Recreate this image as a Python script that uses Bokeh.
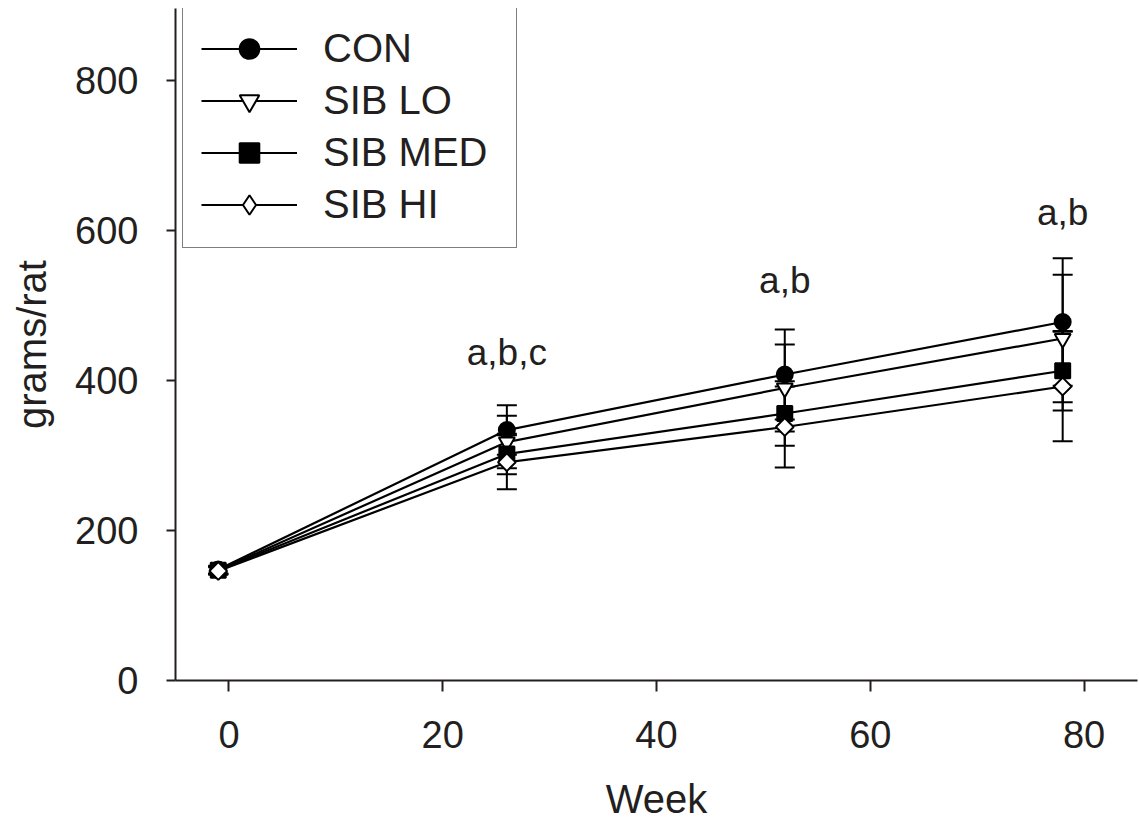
import math
from bokeh.plotting import figure
from bokeh.models import Range1d, Legend, LegendItem, Whisker, TeeHead, ColumnDataSource, FixedTicker
from bokeh.core.properties import value
from bokeh.embed import file_html
from bokeh.resources import INLINE

# ---- data ----
weeks = [-1, 26, 52, 78]
series_names = ["CON", "SIB LO", "SIB MED", "SIB HI"]
con = [148, 334, 408, 478]
con_err = [5, 33, 60, 85]
sib_lo = [147, 318, 390, 456]
sib_lo_err = [5, 35, 58, 85]
sib_med = [147, 302, 356, 413]
sib_med_err = [5, 27, 43, 53]
sib_hi = [146, 291, 338, 392]
sib_hi_err = [5, 36, 54, 73]
annot_weeks = [26, 52, 78]
annot_y = [437, 533, 624]
annot_text = ["a,b,c", "a,b", "a,b"]
x_ticks = [0, 20, 40, 60, 80]
y_ticks = [0, 200, 400, 600, 800]

FONT = "Liberation Sans"
INK = "#231f20"

p = figure(width=1139, height=831, output_backend="svg", toolbar_location=None,
           x_range=Range1d(-5, 85), y_range=Range1d(0, 896),
           min_border_left=175, min_border_right=2, min_border_top=8, min_border_bottom=151)
p.outline_line_color = None
p.grid.visible = False
p.background_fill_color = "white"
p.border_fill_color = "white"

for ax, ticks in ((p.xaxis[0], x_ticks), (p.yaxis[0], y_ticks)):
    ax.ticker = FixedTicker(ticks=ticks)
    ax.axis_line_width = 2
    ax.axis_line_color = INK
    ax.major_tick_line_width = 2
    ax.major_tick_line_color = INK
    ax.major_tick_in = 0
    ax.minor_tick_line_color = None
    ax.major_label_text_font = FONT
    ax.major_label_text_font_size = "38px"
    ax.major_label_text_color = INK
    ax.axis_label_text_font = FONT
    ax.axis_label_text_font_size = "40px"
    ax.axis_label_text_font_style = "normal"
    ax.axis_label_text_color = INK

p.xaxis.major_tick_out = 11
p.xaxis.major_label_standoff = 29
p.xaxis.axis_label = "Week"
p.xaxis.axis_label_standoff = 26
p.yaxis.major_tick_out = 9
p.yaxis.major_label_standoff = 28
p.yaxis.axis_label = "grams/rat"
p.yaxis.axis_label_standoff = 18

series = [
    (con, con_err, "circle", "black", 16, 0.0),
    (sib_lo, sib_lo_err, "inverted_triangle", "white", 16, 0.0),
    (sib_med, sib_med_err, "square", "black", 15, 0.0),
    (sib_hi, sib_hi_err, "square", "white", 12.5, math.pi / 4),
]
legend_markers = ["circle", "inverted_triangle", "square", "diamond"]

line_rs = []
for name, (vals, errs, marker, fill, size, ang) in zip(series_names, series):
    src = ColumnDataSource(dict(x=weeks, y=vals,
                                lo=[v - e for v, e in zip(vals, errs)],
                                hi=[v + e for v, e in zip(vals, errs)]))
    lr = p.line("x", "y", source=src, line_color="black", line_width=2.2)
    line_rs.append((name, lr, src, marker, fill, size, ang))

for name, lr, src, marker, fill, size, ang in line_rs:
    w = Whisker(base="x", lower="lo", upper="hi", source=src, dimension="height",
                line_color="black", line_width=2,
                upper_head=TeeHead(size=20, line_width=2, line_color="black"),
                lower_head=TeeHead(size=20, line_width=2, line_color="black"))
    p.add_layout(w)

items = []
for (name, lr, src, marker, fill, size, ang), lm in zip(line_rs, legend_markers):
    p.scatter("x", "y", source=src, marker=marker, size=size, angle=ang,
              fill_color=fill, line_color="black", line_width=2)
    # legend-only marker renderer (no visible points)
    ls = p.scatter(x=[float("nan")], y=[float("nan")], marker=lm, size=size,
                   fill_color=fill, line_color="black", line_width=2)
    items.append(LegendItem(label=name, renderers=[lr, ls]))

p.text(x=annot_weeks, y=annot_y, text=annot_text, text_font=value(FONT),
       text_font_size="37px", text_align="center", text_baseline="middle", text_color=INK)

legend = Legend(items=items, location=(7, 432), orientation="vertical",
                label_text_font=FONT, label_text_font_size="40px", label_text_color=INK,
                glyph_width=96, glyph_height=49, label_height=49, label_width=175,
                label_standoff=26, spacing=3, padding=18, margin=0,
                border_line_color="black", border_line_width=1.5,
                background_fill_color="white", background_fill_alpha=1.0)
p.add_layout(legend, "center")

open("out.html", "w").write(file_html(p, INLINE))
